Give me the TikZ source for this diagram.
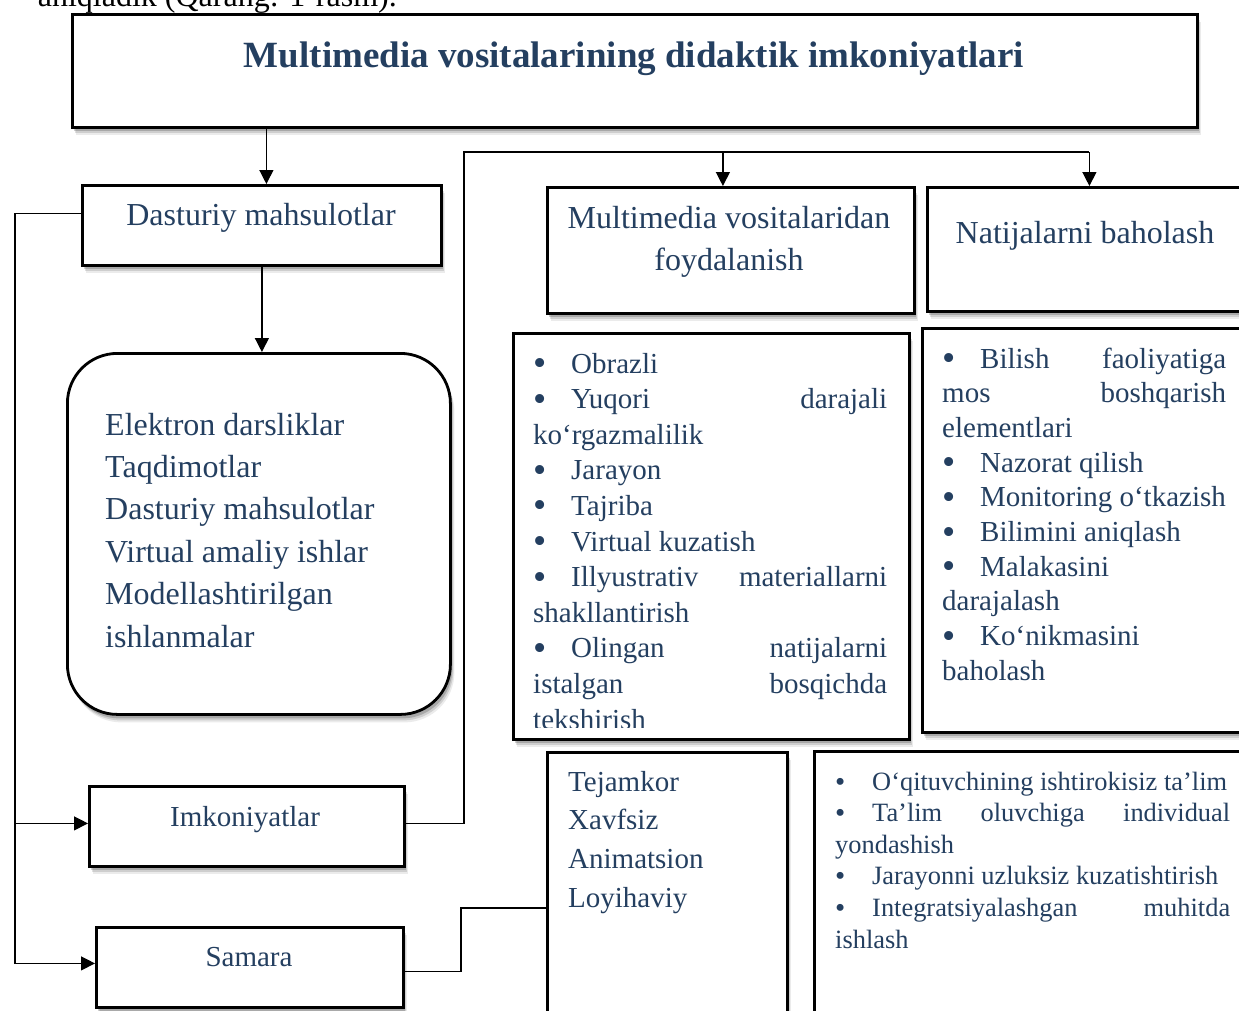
\documentclass[tikz,border=0pt]{standalone}
\usepackage{fontspec}
\usepackage{graphicx}
\setmainfont{Liberation Serif}
\usetikzlibrary{shadows,arrows.meta}
\definecolor{navy}{RGB}{36,63,96}
\newcommand\LL[1]{\hbox to \linewidth{#1\hfil}}
\newcommand\CL[1]{\hbox to \linewidth{\hfil#1\hfil}}
\newcommand\bl[1][38pt]{\makebox[#1][l]{\raisebox{-2.5pt}{\scalebox{1.3}{•}}}}
\newcommand\bls[1][37pt]{\makebox[#1][l]{\raisebox{-1pt}{\scalebox{1.1}{•}}}}
\begin{document}
\begin{tikzpicture}[x=1pt,y=-1pt,
  box/.style={draw=black, line width=2.8pt, fill=white, inner sep=0pt, anchor=north west,
    drop shadow={shadow xshift=4pt, shadow yshift=-8pt, fill=black, opacity=0.08},
    drop shadow={shadow xshift=3pt, shadow yshift=-6pt, fill=black, opacity=0.12},
    drop shadow={shadow xshift=2pt, shadow yshift=-4pt, fill=black, opacity=0.18}},
  conn/.style={draw=black, line width=1.3pt},
  arr/.style={conn, -{Triangle[length=14pt,width=14pt]}},
  tt/.style={text=navy, inner sep=0pt},
  t32/.style={tt, font=\fontsize{32}{42.4}\selectfont},
  t29/.style={tt, font=\fontsize{29}{35.6}\selectfont},
  t29r/.style={tt, font=\fontsize{29}{34.7}\selectfont},
  t29t/.style={tt, font=\fontsize{29}{38.7}\selectfont},
  t27/.style={tt, font=\fontsize{26.4}{31.6}\selectfont}]
\fill[white] (0,0) rectangle (1239,1010);
\useasboundingbox (0,0) rectangle (1239,1010);

% cut-off line of text at the top
\node[anchor=base east, inner sep=0pt, font=\fontsize{32}{38}\selectfont] (cut) at (397,6) {aniqladik (Qarang: 1-rasm).};

% boxes
\node[box, minimum width=1125pt, minimum height=113pt] (top) at (71,13) {};
\node[box, minimum width=359pt, minimum height=80pt] (dast) at (81,184) {};
\node[box, minimum width=383pt, minimum height=361pt, rounded corners=50pt] (elek) at (66,352) {};
\node[box, minimum width=315pt, minimum height=80pt] (imk) at (88,785) {};
\node[box, minimum width=307pt, minimum height=80pt] (sam) at (95,926) {};
\node[box, minimum width=367pt, minimum height=126pt] (mm) at (546,186) {};
\node[box, minimum width=330pt, minimum height=124pt] (nat) at (926,186) {};
\node[box, minimum width=396pt, minimum height=406pt] (mlist) at (512,332) {};
\node[box, minimum width=330pt, minimum height=404pt] (nlist) at (921,327) {};
\node[box, minimum width=240pt, minimum height=270pt] (tej) at (546,751) {};
\node[box, minimum width=440pt, minimum height=270pt] (eff) at (813,750) {};

% texts
\node[tt, anchor=base, font=\bfseries\fontsize{37}{44}\selectfont] (title) at (634,67) {Multimedia vositalarining didaktik imkoniyatlari};
\node[t32, anchor=base] (dastT) at (261,225) {Dasturiy mahsulotlar};
\node[t32, anchor=base west] (elekT) at (105,435) {\parbox[t]{330pt}{\LL{Elektron darsliklar}\LL{Taqdimotlar}\LL{Dasturiy mahsulotlar}\LL{Virtual amaliy ishlar}\LL{Modellashtirilgan}\LL{ishlanmalar}}};
\node[t29, anchor=base] (imkT) at (245,826) {Imkoniyatlar};
\node[t29, anchor=base] (samT) at (249,966) {Samara};
\node[t32, anchor=base] (mmT) at (729,228) {\parbox[t]{360pt}{\CL{Multimedia vositalaridan}\CL{foydalanish}}};
\node[t32, anchor=base] (natT) at (1085,243) {Natijalarni baholash};
\begin{scope}
\clip (512,332) rectangle (908,727);
\node[t29, anchor=base west] (mlistT) at (533,373) {\parbox[t]{354pt}{%
\LL{\bl Obrazli}%
\LL{\bl Yuqori\hfill darajali}%
\LL{ko‘rgazmalilik}%
\LL{\bl Jarayon}%
\LL{\bl Tajriba}%
\LL{\bl Virtual kuzatish}%
\LL{\bl Illyustrativ\hfill materiallarni}%
\LL{shakllantirish}%
\LL{\bl Olingan\hfill natijalarni}%
\LL{istalgan\hfill bosqichda}%
\LL{tekshirish}}};
\end{scope}
\node[t29r, anchor=base west] (nlistT) at (942,368) {\parbox[t]{284pt}{%
\LL{\bl Bilish\hfill faoliyatiga}%
\LL{mos\hfill boshqarish}%
\LL{elementlari}%
\LL{\bl Nazorat qilish}%
\LL{\bl Monitoring o‘tkazish}%
\LL{\bl Bilimini aniqlash}%
\LL{\bl Malakasini}%
\LL{darajalash}%
\LL{\bl Ko‘nikmasini}%
\LL{baholash}}};
\node[t29t, anchor=base west] (tejT) at (568,791) {\parbox[t]{200pt}{\LL{Tejamkor}\LL{Xavfsiz}\LL{Animatsion}\LL{Loyihaviy}}};
\node[t27, anchor=base west] (effT) at (835,790) {\parbox[t]{395pt}{%
\LL{\bls O‘qituvchining ishtirokisiz ta’lim}%
\LL{\bls Ta’lim\hfill oluvchiga\hfill individual}%
\LL{yondashish}%
\LL{\bls Jarayonni uzluksiz kuzatishtirish}%
\LL{\bls Integratsiyalashgan\hfill muhitda}%
\LL{ishlash}}};

% connectors
\coordinate (lx) at (15,0);
\coordinate (rx) at (464,152);
\coordinate (sx) at (461,908);
\coordinate (da) at ([xshift=4.5pt]dast.north);
\coordinate (mmA) at ([xshift=-8pt]mm.north);
\coordinate (natA) at ([xshift=-3pt]nat.north);
\coordinate (samA) at ([yshift=4pt]sam.west);
\coordinate (imkA) at ([yshift=3pt]imk.west);
\draw[arr] (top.south -| da) -- (da);
\draw[arr] (dast.south) -- (dast.south |- elek.north);
\draw[arr] ([yshift=12pt]dast.west) -| (lx |- samA) -- (samA);
\draw[arr] (lx |- imkA) -- (imkA);
\draw[conn] ([yshift=3pt]imk.east) -| (rx) -- (rx -| natA);
\draw[arr] (rx -| mmA) -- (mmA);
\draw[arr] (rx -| natA) -- (natA);
\draw[conn] ([yshift=-4pt]sam.east) -| (sx) -- (sx -| tej.west);
\end{tikzpicture}
\end{document}
